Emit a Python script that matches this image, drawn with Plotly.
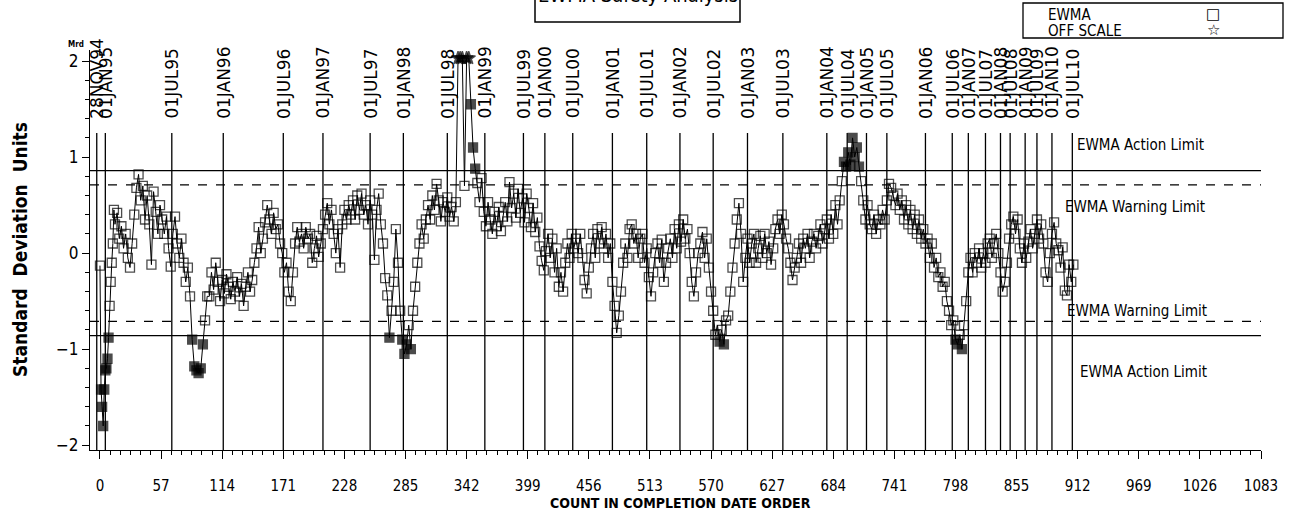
import plotly.graph_objects as go

# ---------------- data ----------------
# EWMA values (standard deviation units), counts 0..13 (every count)
ewma_start = [-0.13, -1.42, -1.6, -1.8, -1.42, -1.22, -1.2, -1.1, -0.88, -0.55, -0.3, -0.1, 0.1, 0.45]
# EWMA values from count 14 onwards, every 2nd count
ewma_main = [
    0.3, 0.42, 0.15, 0.28, 0.05, 0.2, -0.05, -0.15, 0.1, 0.4, 0.68, 0.82, 0.55, 0.7, 0.35, 0.6, 0.3, -0.12, 0.64, 0.43,
    0.2, 0.5, 0.35, 0.2, 0.38, 0.05, -0.14, 0.2, 0.38, 0.1, -0.05, 0.15, -0.1, -0.3, -0.15, -0.45, -0.9, -1.18, -1.22, -1.25,
    -1.2, -0.95, -0.7, -0.45, -0.45, -0.2, -0.38, -0.1, -0.3, -0.5, -0.28, -0.42, -0.22, -0.35, -0.48, -0.3, -0.4, -0.25, -0.45, -0.32,
    -0.55, -0.35, -0.2, -0.4, -0.28, -0.1, 0.05, 0.27, 0.0, 0.15, 0.32, 0.5, 0.35, 0.2, 0.42, 0.25, 0.3, 0.1, 0.0, -0.2,
    -0.1, -0.4, -0.5, -0.2, 0.1, 0.27, 0.12, 0.2, 0.05, 0.27, 0.15, 0.2, -0.1, 0.05, 0.18, -0.04, 0.1, 0.25, 0.4, 0.52,
    0.3, 0.45, 0.2, 0.0, 0.25, -0.15, 0.3, 0.45, 0.35, 0.5, 0.4, 0.55, 0.35, 0.6, 0.45, 0.62, 0.4, 0.5, 0.3, 0.55,
    0.4, -0.07, 0.45, 0.62, 0.3, 0.1, -0.26, -0.44, -0.88, -0.6, -0.3, 0.25, -0.1, -0.6, -0.9, -1.05, -0.95, -0.75, -1.0, -0.6,
    -0.35, -0.1, 0.1, 0.3, 0.15, 0.35, 0.5, 0.35, 0.6, 0.45, 0.72, 0.55, 0.33, 0.53, 0.43, 0.58, 0.38, 0.48, 0.33, 0.53,
    2.1, 2.1, 2.1, 0.7, 2.1, 2.1, 1.55, 1.1, 0.88, 0.73, 0.53, 0.78, 0.43, 0.28, 0.53, 0.35, 0.2, 0.43, 0.28, 0.48,
    0.23, 0.38, 0.53, 0.33, 0.74, 0.47, 0.62, 0.37, 0.67, 0.42, 0.57, 0.32, 0.62, 0.47, 0.27, 0.52, 0.22, 0.37, 0.07, -0.08,
    -0.18, 0.02, 0.2, -0.05, 0.15, -0.2, 0.05, -0.35, -0.2, -0.4, -0.1, 0.1, -0.05, 0.2, 0.05, 0.15, 0.0, 0.2, -0.05, -0.28,
    -0.42, -0.15, 0.05, 0.2, -0.05, 0.25, 0.1, 0.27, 0.05, 0.2, -0.05, 0.1, -0.3, -0.55, -0.83, -0.65, -0.4, -0.1, 0.1, -0.05,
    0.25, 0.3, 0.1, 0.2, -0.05, 0.15, 0.2, -0.1, 0.05, -0.25, -0.45, -0.2, 0.0, 0.1, -0.1, 0.14, -0.3, -0.1, 0.05, 0.15,
    -0.05, 0.25, 0.05, 0.3, 0.12, 0.35, 0.15, 0.25, 0.0, -0.3, -0.45, -0.2, 0.0, 0.1, 0.22, -0.05, 0.15, -0.15, -0.4, -0.6,
    -0.85, -0.75, -0.92, -0.8, -0.95, -0.7, -0.65, -0.4, -0.15, 0.1, 0.35, 0.52, 0.2, -0.3, -0.05, 0.15, -0.1, 0.1, 0.2, -0.1,
    0.05, 0.18, -0.05, 0.2, 0.0, 0.12, -0.12, 0.05, 0.25, 0.35, 0.2, 0.4, 0.3, 0.15, 0.05, -0.1, -0.28, -0.15, -0.05, 0.1,
    -0.1, 0.15, 0.05, 0.2, -0.05, 0.12, 0.2, 0.05, 0.18, 0.3, 0.1, 0.25, 0.35, 0.15, 0.4, 0.2, 0.5, 0.3, 0.55, 0.75,
    0.95, 0.9, 1.05, 0.92, 1.2, 1.0, 1.1, 0.9, 0.75, 0.55, 0.35, 0.5, 0.3, 0.25, 0.4, 0.2, 0.35, 0.3, 0.45, 0.35,
    0.55, 0.72, 0.68, 0.6, 0.5, 0.62, 0.45, 0.55, 0.35, 0.5, 0.3, 0.45, 0.25, 0.4, 0.2, 0.35, 0.15, 0.25, 0.1, 0.15,
    -0.05, 0.1, -0.15, -0.05, -0.25, -0.2, -0.35, -0.3, -0.5, -0.6, -0.75, -0.7, -0.9, -0.95, -0.85, -1.0, -0.75, -0.5, -0.2, -0.05,
    -0.2, 0.0, -0.1, 0.05, -0.15, 0.0, -0.1, 0.1, 0.15, -0.05, 0.1, 0.2, 0.0, -0.2, -0.4, -0.3, -0.1, 0.15, 0.3, 0.38,
    0.2, 0.35, 0.05, -0.1, 0.1, -0.05, 0.12, 0.25, 0.05, 0.2, 0.35, 0.15, 0.3, 0.1, -0.2, -0.3, 0.0, 0.2, 0.32, 0.1,
    0.03, -0.15, 0.06, -0.39, -0.44, -0.12, -0.3, -0.12,
]

# control limits
limit_values = [0.86, 0.71, -0.71, -0.86]
limit_labels = ["EWMA Action Limit", "EWMA Warning Limit", "EWMA Warning Limit", "EWMA Action Limit"]
limit_dash = ["solid", "dash", "dash", "solid"]

# reference date lines
date_labels = ["28NOV94", "01JAN95", "01JUL95", "01JAN96", "01JUL96", "01JAN97", "01JUL97", "01JAN98",
               "01JUL98", "01JAN99", "01JUL99", "01JAN00", "01JUL00", "01JAN01", "01JUL01", "01JAN02",
               "01JUL02", "01JAN03", "01JUL03", "01JAN04", "01JUL04", "01JAN05", "01JUL05", "01JAN06",
               "01JUL06", "01JAN07", "01JUL07", "01JAN08", "01JUL08", "01JAN09", "01JUL09", "01JAN10", "01JUL10"]
date_counts = [-3, 5, 67, 115, 171, 208, 252, 283, 324, 359, 395, 415, 441, 478, 510, 541, 572, 604,
               637, 678, 697, 715, 734, 770, 795, 810, 826, 840, 849, 863, 874, 888, 907]

x_ticks = list(range(0, 1084, 57))
y_ticks = [-2, -1, 0, 1, 2]

title_text = "EWMA Safety Analysis"
x_title = "COUNT IN COMPLETION DATE ORDER"
y_title = "Standard  Deviation  Units"

# ---------------- layout geometry ----------------
W, H = 1289, 514
ML, MR, MT, MB = 90, 28, 50, 64
PW, PH = W - ML - MR, H - MT - MB
X_RANGE = [-9.3, 1083]
Y_RANGE = [-2.05, 2.115]
OFF_TOP = 2.0
ACTION = limit_values[0]

def px_x(p):
    return (p - ML) / PW

def px_y(p):
    return (H - MB - p) / PH

counts = list(range(len(ewma_start))) + list(range(len(ewma_start), len(ewma_start) + 2 * len(ewma_main), 2))
values = ewma_start + ewma_main
plot_y = [min(v, 2.03) for v in values]
symbols = ["star" if v > OFF_TOP else ("square" if abs(v) > ACTION else "square-open") for v in values]
sizes = [10 if v > OFF_TOP else 9 for v in values]

NARROW = "Liberation Sans Narrow, DejaVu Sans Condensed, Arial Narrow, sans-serif"
SANS = "DejaVu Sans, Arial, sans-serif"

fig = go.Figure()
fig.add_trace(go.Scatter(
    x=counts, y=plot_y, mode="lines+markers",
    line=dict(color="black", width=1),
    marker=dict(symbol=symbols, size=sizes, color="black", line=dict(color="black", width=1.3)),
    cliponaxis=False, showlegend=False, hoverinfo="x+y",
))

shapes = []
annotations = []

# limit lines and labels
label_shift = [26, -22, 10, -36]
label_x = [909.5, 898, 900, 912]
for v, lab, d, ys, lx in zip(limit_values, limit_labels, limit_dash, label_shift, label_x):
    shapes.append(dict(type="line", xref="paper", x0=0, x1=1, yref="y", y0=v, y1=v,
                       line=dict(color="black", width=1.3, dash=d)))
    annotations.append(dict(x=lx, y=v, xref="x", yref="y", yshift=ys, text=lab, showarrow=False,
                            xanchor="left", yanchor="middle",
                            font=dict(family=NARROW, size=15, color="black")))

# date lines and rotated labels
for lab, c in zip(date_labels, date_counts):
    shapes.append(dict(type="line", xref="x", x0=c, x1=c, yref="y", y0=Y_RANGE[0], y1=1.25,
                       line=dict(color="black", width=1.3)))
    annotations.append(dict(x=c, y=1.38, xref="x", yref="y", text=lab, textangle=-90, showarrow=False,
                            xanchor="center", yanchor="bottom",
                            font=dict(family=SANS, size=17, color="black")))

# title box (clipped at top of the page)
shapes.append(dict(type="rect", xref="paper", yref="paper", x0=px_x(535), x1=px_x(740),
                   y0=px_y(22), y1=px_y(-20), line=dict(color="black", width=1.5), fillcolor="white",
                   layer="above"))
annotations.append(dict(x=px_x(638), y=px_y(9), xref="paper", yref="paper", text=title_text,
                        showarrow=False, xanchor="center", yanchor="bottom",
                        font=dict(family=NARROW, size=20, color="black")))

# legend box
shapes.append(dict(type="rect", xref="paper", yref="paper", x0=px_x(1023), x1=px_x(1283),
                   y0=px_y(38), y1=px_y(3), line=dict(color="black", width=1.3), fillcolor="white"))
annotations.append(dict(x=px_x(1046), y=px_y(15), xref="paper", yref="paper", text="EWMA",
                        showarrow=False, xanchor="left", yanchor="middle",
                        font=dict(family=NARROW, size=15, color="black")))
annotations.append(dict(x=px_x(1046), y=px_y(31), xref="paper", yref="paper", text="OFF SCALE",
                        showarrow=False, xanchor="left", yanchor="middle",
                        font=dict(family=NARROW, size=15, color="black")))
annotations.append(dict(x=px_x(1213), y=px_y(14), xref="paper", yref="paper", text="□",
                        showarrow=False, xanchor="center", yanchor="middle",
                        font=dict(family=SANS, size=15, color="black")))
annotations.append(dict(x=px_x(1213), y=px_y(30), xref="paper", yref="paper", text="☆",
                        showarrow=False, xanchor="center", yanchor="middle",
                        font=dict(family=SANS, size=15, color="black")))

# axis titles and small unit label
annotations.append(dict(x=0, y=0.5, xref="paper", yref="paper", xshift=-70, text="<b>" + y_title + "</b>",
                        textangle=-90, showarrow=False, xanchor="center", yanchor="middle",
                        font=dict(family=NARROW, size=19, color="black")))
annotations.append(dict(x=px_x(680), y=px_y(503), xref="paper", yref="paper", text="<b>" + x_title + "</b>",
                        showarrow=False, xanchor="center", yanchor="middle",
                        font=dict(family=NARROW, size=14, color="black")))
annotations.append(dict(x=px_x(76), y=px_y(44), xref="paper", yref="paper", text="<b>Mrd</b>",
                        showarrow=False, xanchor="center", yanchor="middle",
                        font=dict(family=NARROW, size=8, color="black")))

fig.update_layout(
    width=W, height=H,
    margin=dict(l=ML, r=MR, t=MT, b=MB, pad=0),
    paper_bgcolor="white", plot_bgcolor="white",
    shapes=shapes, annotations=annotations,
    showlegend=False,
    xaxis=dict(range=X_RANGE, tickmode="array", tickvals=x_ticks, ticktext=[str(t) for t in x_ticks],
               showline=True, linecolor="black", linewidth=1.3, ticks="outside", ticklen=8,
               tickcolor="black", tickwidth=1.3, showgrid=False, zeroline=False,
               ticklabelstandoff=14,
               tickfont=dict(family=NARROW, size=15, color="black"),
               minor=dict(ticks="outside", dtick=9.5, tick0=0, ticklen=4, tickcolor="black", tickwidth=1.2)),
    yaxis=dict(range=Y_RANGE, tickmode="array", tickvals=y_ticks, ticktext=["\u22122", "\u22121", "0", "1", "2"],
               showline=True, linecolor="black", linewidth=1.3, ticks="outside", ticklen=7,
               tickcolor="black", tickwidth=1.3, showgrid=False, zeroline=False,
               tickfont=dict(family=NARROW, size=17, color="black"),
               minor=dict(ticks="outside", dtick=0.2, tick0=0, ticklen=4, tickcolor="black", tickwidth=1.2)),
)

fig.write_html("out.html", config={"displayModeBar": False},
               post_script="document.body.style.margin='0';")
